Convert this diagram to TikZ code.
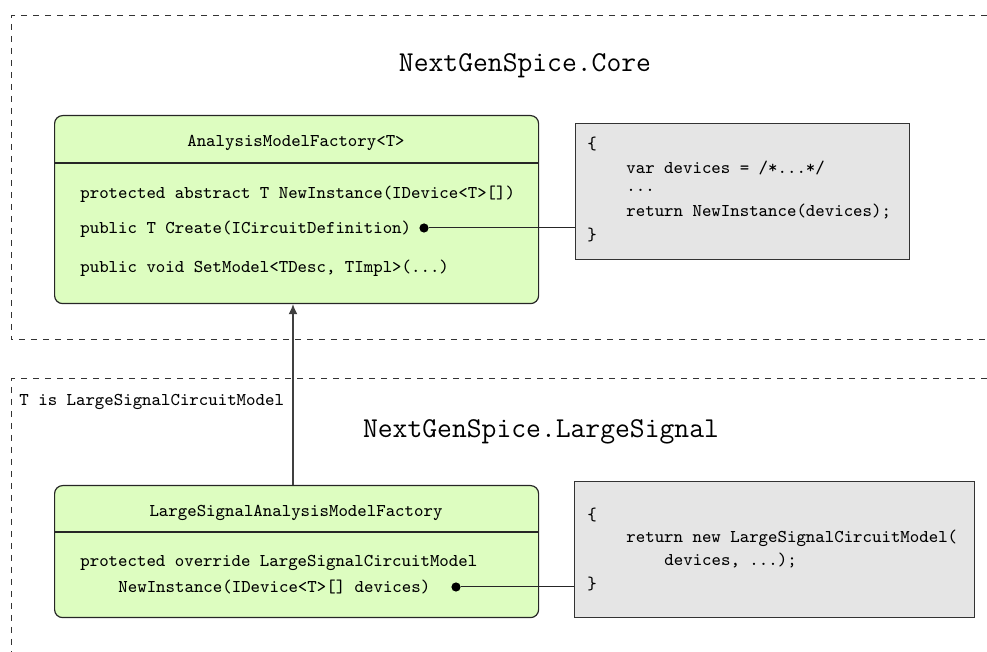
\documentclass[tikz,border=0pt]{standalone}
\usetikzlibrary{arrows.meta}
\definecolor{clsgreen}{RGB}{221,253,192}
\definecolor{notegray}{RGB}{229,229,229}
\begin{document}
\begin{tikzpicture}[x=0.5pt,y=-0.5pt,
  every node/.style={font=\ttfamily\small, inner sep=0pt},
  cls/.style={draw=black!85, fill=clsgreen, rounded corners=4pt, line width=0.6pt, anchor=north west},
  notebox/.style={draw=black!80, fill=notegray, line width=0.6pt, anchor=north west},
  pkg/.style={dashed, line width=0.5pt, draw=black!80},
  ttl/.style={font=\ttfamily\Large},
  txt/.style={anchor=west},
  dotnode/.style={circle, fill=black, minimum size=4.6pt},
  conn/.style={line width=0.5pt, draw=black!85}
  ]
\useasboundingbox (0,0) rectangle (987,652);

% packages
\coordinate (p1a) at (987,16);
\coordinate (p1b) at (11,16);
\coordinate (p1c) at (11,340);
\coordinate (p1d) at (987,340);
\draw[pkg] (p1a) -- (p1b) -- (p1c) -- (p1d);
\coordinate (p2a) at (987,379);
\coordinate (p2b) at (11,379);
\coordinate (p2c) at (11,652);
\draw[pkg] (p2a) -- (p2b) -- (p2c);

\node[ttl] (t1) at (525,66) {NextGenSpice.Core};
\node[ttl] (t2) at (541,432) {NextGenSpice.LargeSignal};

% class 1
\node[cls, minimum width=242pt, minimum height=94pt] (c1) at (54,115) {};
\coordinate (c1d) at (54,163);
\draw[line width=0.6pt, black!85] (c1d) -- (c1d -| c1.east);
\node (c1h) at (296,143) {AnalysisModelFactory<T>};
\node[txt] (m1) at (80,194) {protected abstract T NewInstance(IDevice<T>[])};
\node[txt] (m2) at (80,229) {public T Create(ICircuitDefinition)};
\node[txt] (m3) at (80,268) {public void SetModel<TDesc, TImpl>(...)};

% note 1
\node[notebox, minimum width=167pt, minimum height=68pt] (n1) at (575,123) {};
\node[txt] (n1a) at (587,144) {\{};
\node[txt] (n1b) at (626,168) {var devices = /*...*/};
\node[txt] (n1c) at (626,190) {...};
\node[txt] (n1d) at (626,212) {return NewInstance(devices);};
\node[txt] (n1e) at (587,235) {\}};

\node[dotnode] (d1) at (424,228) {};
\draw[conn] (d1) -- (d1 -| n1.west);

% class 2
\node[cls, minimum width=242pt, minimum height=66pt] (c2) at (54,485) {};
\coordinate (c2d) at (54,532);
\draw[line width=0.6pt, black!85] (c2d) -- (c2d -| c2.east);
\node (c2h) at (296,513) {LargeSignalAnalysisModelFactory};
\node[txt] (m4) at (80,563) {protected override LargeSignalCircuitModel};
\node[txt] (m5) at (118,587) {NewInstance(IDevice<T>[] devices)};

% note 2
\node[notebox, minimum width=200pt, minimum height=68pt] (n2) at (574,481) {};
\node[txt] (n2a) at (587,515) {\{};
\node[txt] (n2b) at (626,538) {return new LargeSignalCircuitModel(};
\node[txt] (n2c) at (664,561) {devices, ...);};
\node[txt] (n2d) at (587,584) {\}};

\node[dotnode] (d2) at (456,587) {};
\draw[conn] (d2) -- (d2 -| n2.west);

% generalization arrow
\draw[line width=0.6pt, black!75, -{Latex[length=5pt,width=4.5pt]}] (c2.north -| 293,0) -- (c1.south -| 293,0);
\node[txt] (lbl) at (19,402) {T is LargeSignalCircuitModel};
\end{tikzpicture}
\end{document}
